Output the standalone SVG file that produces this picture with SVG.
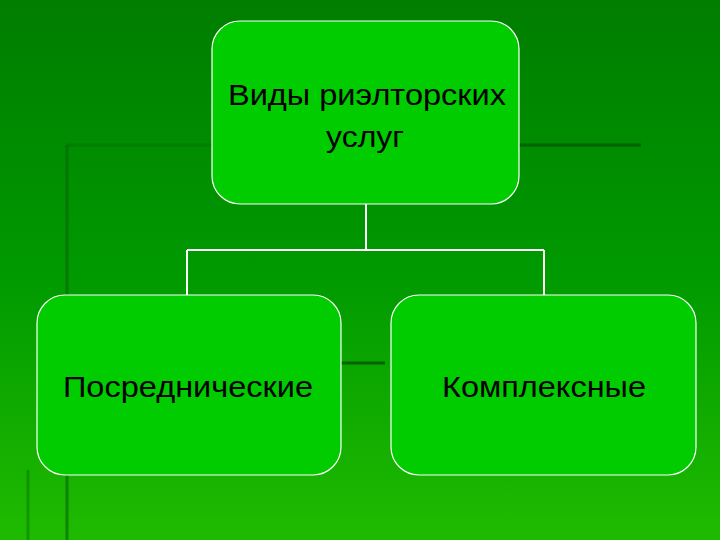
<svg xmlns="http://www.w3.org/2000/svg" width="720" height="540" viewBox="0 0 720 540">
<defs>
<linearGradient id="bg" x1="0" y1="0" x2="0" y2="1">
<stop offset="0" stop-color="#007d00"/>
<stop offset="0.5" stop-color="#009900"/>
<stop offset="1" stop-color="#1fbb00"/>
</linearGradient>
<style>
.box{fill:#00cc00;stroke:#ffffff;stroke-width:1.2}
.lbl{font-family:"Liberation Sans",Arial,sans-serif;font-size:29.5px;fill:#000;text-anchor:middle}
.conn{stroke:#ffffff;stroke-width:2;fill:none}
.deco{stroke:#006400;stroke-width:3;fill:none}
</style>
</defs>
<rect width="720" height="540" fill="url(#bg)"/>
<g id="decor">
<line class="deco" x1="67" y1="145" x2="67" y2="540" stroke-opacity="0.6"/>
<line class="deco" x1="67" y1="145" x2="640" y2="145" stroke-opacity="0.35"/>
<line class="deco" x1="519" y1="145" x2="641" y2="145"/>
<line class="deco" x1="340" y1="363" x2="385" y2="363"/>
<line class="deco" x1="28" y1="470" x2="28" y2="540" stroke-opacity="0.4"/>
</g>
<g id="connectors">
<path class="conn" d="M366,204 V250 M187,250 H544 M187,250 V295 M544,250 V295"/>
</g>
<g id="root">
<rect class="box" x="212" y="21" width="307" height="183" rx="28"/>
<text class="lbl" x="367" y="105" textLength="278" lengthAdjust="spacingAndGlyphs">Виды риэлторских</text>
<text class="lbl" x="365" y="147" textLength="78" lengthAdjust="spacingAndGlyphs">услуг</text>
</g>
<g id="left">
<rect class="box" x="37" y="295" width="304" height="180" rx="28"/>
<text class="lbl" x="188" y="397" textLength="250" lengthAdjust="spacingAndGlyphs">Посреднические</text>
</g>
<g id="right">
<rect class="box" x="391" y="295" width="305" height="180" rx="28"/>
<text class="lbl" x="544" y="397" textLength="204" lengthAdjust="spacingAndGlyphs">Комплексные</text>
</g>
</svg>
